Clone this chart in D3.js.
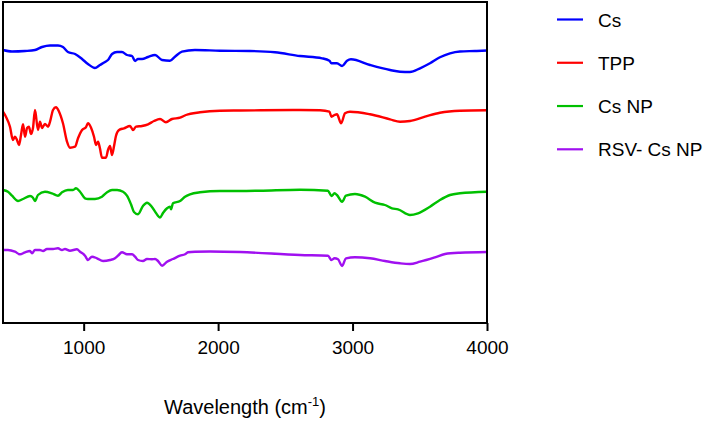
<!DOCTYPE html>
<html>
<head>
<meta charset="utf-8">
<script src="https://cdn.jsdelivr.net/npm/d3@7"></script>
<style>
  body { margin: 0; background: #fff; }
  text { font-family: "Liberation Sans", Arial, sans-serif; fill: #000; }
</style>
</head>
<body>
<div id="chart"></div>
<script>
// FTIR spectra, [wavenumber cm-1, transmittance a.u. (offset)]
var csData = [[400,273],[467,271.5],[564,272],[638,273],[690,276],[750,277.5],[809,277.5],[846,276],[883,271],[936,269],[988,264],[1032,259],[1084,255],[1121,258],[1159,261],[1181,263],[1211,269],[1248,271],[1285,271],[1322,268],[1360,267],[1382,262],[1404,264],[1434,264],[1479,266],[1531,268],[1583,263],[1642,262.3],[1679,266.3],[1731,271.3],[1828,273],[2014,272.3],[2237,272],[2423,270.7],[2609,267],[2773,264.7],[2828,262.3],[2843,259.7],[2884,259.7],[2922,257],[2959,262.3],[2988,263.7],[3130,258],[3279,253],[3353,251.3],[3427,251],[3502,254.7],[3576,259.7],[3650,265.7],[3725,269.7],[3799,271.5],[3911,272],[4000,272.5]];

var tppData = [[400,211.3],[422,206.3],[452,196.3],[474,183],[489,186.3],[504,183],[519,178],[534,188],[549,198.7],[564,186.3],[579,195],[593,196.3],[608,189],[623,195],[638,213],[660,193],[675,201.3],[690,195],[712,199],[735,196.3],[750,201.3],[772,213],[794,215.7],[817,211.3],[846,199.7],[876,181.3],[898,175.3],[936,176.3],[958,184.7],[988,193],[1017,195.7],[1032,199.7],[1055,195.3],[1077,186.3],[1092,178],[1107,181.3],[1121,174.7],[1136,165.3],[1166,165.3],[1181,173],[1196,177],[1211,168],[1226,177],[1240,187],[1263,193],[1300,194.7],[1345,197],[1367,193],[1389,196.3],[1434,197],[1479,198.7],[1523,202],[1568,204],[1612,200.7],[1657,204],[1717,205.3],[1761,208],[1865,210.7],[2014,212.3],[2163,212.5],[2609,213],[2758,212.7],[2828,211.3],[2843,206.3],[2866,208],[2884,208.7],[2915,199.7],[2944,209.7],[2981,211.3],[3130,208.7],[3279,203.7],[3353,201.3],[3427,202],[3539,206.3],[3650,210.3],[3799,212.3],[4000,212.7]];

var csnpData = [[400,133],[437,131.3],[467,127.3],[512,122],[549,124],[601,127],[623,125.3],[638,122],[660,128],[712,131.3],[764,129.7],[809,127.3],[839,130.7],[883,133],[921,133],[943,134.7],[973,131.3],[1010,124.7],[1032,124],[1084,124],[1136,126.3],[1174,130.7],[1211,133],[1248,133],[1293,131.3],[1322,127.3],[1352,118.7],[1374,111],[1404,108.7],[1441,117],[1471,120.3],[1508,116],[1538,110],[1568,105.5],[1590,110],[1620,114.7],[1642,116.3],[1650,113.7],[1664,119.7],[1717,122],[1754,126.3],[1791,128.7],[1865,130.7],[2014,132],[2163,132],[2312,132.3],[2609,133.3],[2817,132.3],[2843,127],[2866,129.7],[2884,128],[2922,121.3],[2951,127.3],[3018,129],[3093,126.3],[3167,120.3],[3241,118],[3293,114.7],[3338,113.7],[3427,108],[3487,109.7],[3576,116.3],[3650,123],[3725,128],[3799,129.7],[4000,131.3]];

var rsvData = [[400,73],[437,73],[489,71.3],[526,68.7],[564,70.7],[601,72],[616,69.7],[638,73],[675,73],[698,72],[727,74],[772,74],[809,74.7],[839,73],[861,74],[898,72.3],[950,73.7],[973,71.3],[1010,67.3],[1032,63],[1062,66.3],[1099,64.7],[1144,62],[1196,63],[1233,64.7],[1255,67.3],[1285,70.7],[1322,68.7],[1360,68.7],[1382,66.3],[1404,63],[1441,62],[1471,64],[1508,63.7],[1531,64],[1553,62],[1583,57.3],[1620,61.3],[1664,64],[1717,67.3],[1754,68.7],[1776,70.7],[1828,71.3],[1940,71.5],[2163,71],[2609,68],[2817,67.3],[2843,63],[2866,64.7],[2892,63.7],[2922,57],[2951,64.7],[3018,65.7],[3130,64.7],[3241,62],[3353,59.7],[3427,59],[3502,61.3],[3613,65.7],[3688,69],[3799,70.3],[4000,71]];

var seriesNames = ["Cs", "TPP", "Cs NP", "RSV- Cs NP"];
var seriesColors = ["#0000ff", "#ff0000", "#00c000", "#a010f0"];
var xTicks = [1000, 2000, 3000, 4000];

var series = [csData, tppData, csnpData, rsvData];

var width = 709, height = 422;
var plot = {left: 3, top: 2, right: 487, bottom: 323};

var svg = d3.select("#chart").append("svg")
    .attr("width", width)
    .attr("height", height);

var x = d3.scaleLinear()
    .domain([400, 4000])
    .range([plot.left, plot.right]);

var y = d3.scaleLinear()
    .domain([0, 321])
    .range([plot.bottom, plot.top]);

var color = d3.scaleOrdinal()
    .domain(seriesNames)
    .range(seriesColors);

var line = d3.line()
    .x(function(d) { return x(d[0]); })
    .y(function(d) { return y(d[1]); })
    .curve(d3.curveMonotoneX);

svg.selectAll(".spectrum")
    .data(series)
  .enter().append("path")
    .attr("class", "spectrum")
    .attr("fill", "none")
    .attr("stroke", function(d, i) { return color(seriesNames[i]); })
    .attr("stroke-width", 2.4)
    .attr("stroke-linejoin", "round")
    .attr("d", line);

// frame
svg.append("rect")
    .attr("x", plot.left)
    .attr("y", plot.top)
    .attr("width", plot.right - plot.left)
    .attr("height", plot.bottom - plot.top)
    .attr("fill", "none")
    .attr("stroke", "#000")
    .attr("stroke-width", 2);

var xAxis = d3.axisBottom(x)
    .tickValues(xTicks)
    .tickSize(8)
    .tickPadding(10)
    .tickFormat(d3.format("d"));

var gx = svg.append("g")
    .attr("transform", "translate(0," + plot.bottom + ")")
    .call(xAxis);

gx.select(".domain").remove();
gx.selectAll(".tick line").attr("stroke-width", 2);
gx.selectAll(".tick text")
    .attr("font-family", "Liberation Sans, Arial, sans-serif")
    .attr("font-size", 19)
    .attr("fill", "#000");

var title = svg.append("text")
    .attr("x", (plot.left + plot.right) / 2)
    .attr("y", 414)
    .attr("text-anchor", "middle")
    .attr("font-size", 20);
title.append("tspan").text("Wavelength (cm");
title.append("tspan").attr("dy", -8).attr("font-size", 13).text("-1");
title.append("tspan").attr("dy", 8).text(")");

// legend
var ly = d3.scalePoint()
    .domain(seriesNames)
    .range([19.5, 149.3]);

var legend = svg.selectAll(".legend")
    .data(seriesNames)
  .enter().append("g")
    .attr("class", "legend")
    .attr("transform", function(d) { return "translate(557," + ly(d) + ")"; });

legend.append("line")
    .attr("x1", 0).attr("x2", 26)
    .attr("stroke", function(d) { return color(d); })
    .attr("stroke-width", 2.2);

legend.append("text")
    .attr("x", 41)
    .attr("y", 7)
    .attr("font-size", 19)
    .text(function(d) { return d; });
</script>
</body>
</html>
